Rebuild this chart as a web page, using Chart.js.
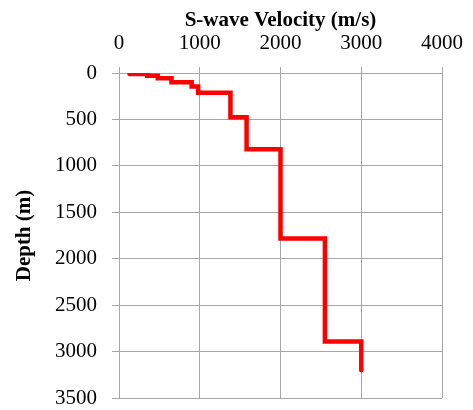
<!DOCTYPE html>
<html>
<head>
<meta charset="utf-8">
<script src="https://cdn.jsdelivr.net/npm/chart.js@4/dist/chart.umd.min.js"></script>
<style>
  body { margin: 0; background: #fff; }
  #c { display: block; }
</style>
</head>
<body>
<canvas id="c" width="473" height="410"></canvas>
<script>
// step profile of shear wave velocity with depth
const velocity = [130, 350, 350, 480, 480, 650, 650, 900, 900, 980, 980, 1380, 1380, 1580, 1580, 2000, 2000, 2550, 2550, 3000, 3000];
const depth = [10, 10, 30, 30, 56, 56, 100, 100, 146, 146, 214, 214, 476, 476, 820, 820, 1782, 1782, 2892, 2892, 3200];

const xTicks = [0, 1000, 2000, 3000, 4000];
const yTicks = [0, 500, 1000, 1500, 2000, 2500, 3000, 3500];

const points = velocity.map((v, i) => ({ x: v, y: depth[i] }));

const FONT = 'Liberation Serif, Times New Roman, serif';
const GRID = '#a6a6a6';

new Chart(document.getElementById('c'), {
  type: 'scatter',
  data: {
    datasets: [{
      data: points,
      showLine: true,
      borderColor: '#ff0000',
      borderWidth: 4.5,
      pointRadius: 0,
      fill: false,
      tension: 0,
      borderCapStyle: 'round'
    }]
  },
  options: {
    responsive: false,
    animation: false,
    layout: { padding: { left: 0, right: 31, top: 0, bottom: 12 } },
    plugins: { legend: { display: false }, tooltip: { enabled: false } },
    scales: {
      x: {
        type: 'linear',
        position: 'top',
        min: 0,
        max: 4000,
        afterBuildTicks: (s) => { s.ticks = xTicks.map(v => ({ value: v })); },
        afterFit: (s) => { s.height = 73; s.paddingLeft = 0; s.paddingRight = 0; },
        ticks: { color: '#000', font: { family: FONT, size: 21 }, padding: 11, callback: (v) => String(v) },
        grid: { color: GRID, lineWidth: 1, tickLength: 6 },
        border: { color: GRID },
        title: {
          display: true,
          text: 'S-wave Velocity (m/s)',
          color: '#000',
          font: { family: FONT, size: 21, weight: 'bold' },
          padding: { top: 8, bottom: 0 }
        }
      },
      y: {
        type: 'linear',
        reverse: true,
        min: 0,
        max: 3500,
        afterBuildTicks: (s) => { s.ticks = yTicks.map(v => ({ value: v })); },
        afterFit: (s) => { s.width = 119; s.paddingTop = 0; s.paddingBottom = 0; },
        ticks: { color: '#000', font: { family: FONT, size: 21 }, padding: 15, callback: (v) => String(v) },
        grid: { color: GRID, lineWidth: 1, tickLength: 7 },
        border: { color: GRID },
        title: {
          display: true,
          text: 'Depth (m)',
          color: '#000',
          font: { family: FONT, size: 21, weight: 'bold' },
          padding: { top: 12, bottom: 0 }
        }
      }
    }
  }
});
</script>
</body>
</html>
